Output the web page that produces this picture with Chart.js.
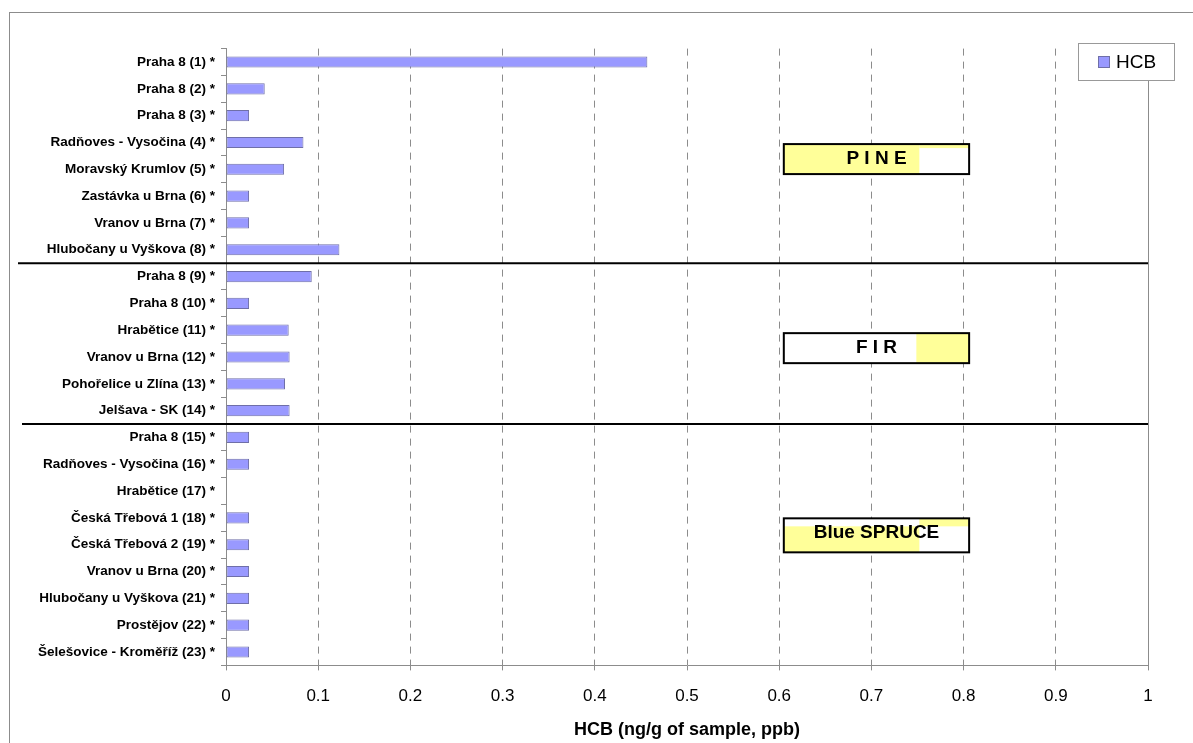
<!DOCTYPE html>
<html>
<head>
<meta charset="utf-8">
<script src="https://cdn.jsdelivr.net/npm/chart.js@4"></script>
<style>
  body { margin: 0; background: #fff; }
  canvas { display: block; }
</style>
</head>
<body>
<canvas id="chart" width="1193" height="743"></canvas>
<script>
// sample sites, top to bottom
const sites = [
  'Praha 8 (1) *', 'Praha 8 (2) *', 'Praha 8 (3) *', 'Radňoves - Vysočina (4) *',
  'Moravský Krumlov (5) *', 'Zastávka u Brna (6) *', 'Vranov u Brna (7) *',
  'Hlubočany u Vyškova (8) *', 'Praha 8 (9) *', 'Praha 8 (10) *', 'Hrabětice (11) *',
  'Vranov u Brna (12) *', 'Pohořelice u Zlína (13) *', 'Jelšava - SK (14) *',
  'Praha 8 (15) *', 'Radňoves - Vysočina (16) *', 'Hrabětice (17) *',
  'Česká Třebová 1 (18) *', 'Česká Třebová 2 (19) *', 'Vranov u Brna (20) *',
  'Hlubočany u Vyškova (21) *', 'Prostějov (22) *', 'Šelešovice - Kroměříž (23) *'
];

// HCB, ng/g of sample (ppb); site 17 has no bar
const hcb = [
  0.457, 0.042, 0.025, 0.084, 0.063, 0.025, 0.025, 0.123,
  0.093, 0.025, 0.068, 0.069, 0.064, 0.069,
  0.025, 0.025, null, 0.025, 0.025, 0.025, 0.025, 0.025, 0.025
];

// tree groups: label, last site index of the group
const groups = ['P I N E', 'F I R', 'Blue SPRUCE'];
const groupEnds = [7, 13, 22];

const xTicks = [0, 0.1, 0.2, 0.3, 0.4, 0.5, 0.6, 0.7, 0.8, 0.9, 1];

const FONT = '"Liberation Sans", Arial, sans-serif';

// draws the frame, group separators, tree name boxes and the legend
const decorations = {
  id: 'decorations',
  beforeDraw(chart) {
    const ctx = chart.ctx;
    ctx.save();
    ctx.fillStyle = '#fff';
    ctx.fillRect(0, 0, chart.width, chart.height);
    ctx.strokeStyle = '#8c8c8c';
    ctx.lineWidth = 1;
    ctx.strokeRect(9.5, 12.5, 1400, 1000);
    ctx.restore();
  },
  afterDraw(chart) {
    const ctx = chart.ctx;
    const x = chart.scales.x, y = chart.scales.y;
    ctx.save();

    // solid line at x = 1
    ctx.strokeStyle = '#8c8c8c';
    ctx.lineWidth = 1;
    ctx.beginPath();
    ctx.moveTo(Math.round(x.getPixelForValue(1)) + 0.5, chart.chartArea.top);
    ctx.lineTo(Math.round(x.getPixelForValue(1)) + 0.5, chart.chartArea.bottom);
    ctx.stroke();

    // separators between groups
    ctx.strokeStyle = '#000';
    ctx.lineWidth = 2;
    const starts = [18, 22];
    for (let g = 0; g < groupEnds.length - 1; g++) {
      const i = groupEnds[g];
      const py = (y.getPixelForValue(i) + y.getPixelForValue(i + 1)) / 2;
      ctx.beginPath();
      ctx.moveTo(starts[g], py);
      ctx.lineTo(x.getPixelForValue(1), py);
      ctx.stroke();
    }

    // group name boxes
    const bx0 = x.getPixelForValue(0.605), bx1 = x.getPixelForValue(0.806);
    const split = x.getPixelForValue(0.752);
    const centers = [3.62, 10.67, 17.65];
    const heights = [30, 30, 34];
    ctx.font = 'bold 19px ' + FONT;
    ctx.textAlign = 'center';
    ctx.textBaseline = 'alphabetic';
    groups.forEach((name, g) => {
      const cy = y.getPixelForValue(centers[g]);
      const h = heights[g];
      const top = cy - h / 2;
      ctx.fillStyle = '#fff';
      ctx.fillRect(bx0, top, bx1 - bx0, h);
      ctx.fillStyle = '#ffff99';
      if (g === 0) {
        ctx.fillRect(bx0, top, split - bx0, h);
        ctx.fillRect(split, top, bx1 - split, 4);
      } else if (g === 1) {
        ctx.fillRect(split - 3, top, bx1 - split + 3, h);
      } else {
        ctx.fillRect(bx0, top + 8, split - bx0, h - 8);
        ctx.fillRect(split, top, bx1 - split, 8);
      }
      ctx.strokeStyle = '#000';
      ctx.lineWidth = 2;
      ctx.strokeRect(bx0, top, bx1 - bx0, h);
      ctx.fillStyle = '#000';
      ctx.fillText(name, (bx0 + bx1) / 2, cy + (g === 2 ? 3 : 5));
    });

    // legend
    const ds = chart.data.datasets[0];
    ctx.fillStyle = '#fff';
    ctx.fillRect(1078, 43, 96, 37);
    ctx.strokeStyle = '#999';
    ctx.lineWidth = 1;
    ctx.strokeRect(1078.5, 43.5, 96, 37);
    ctx.fillStyle = ds.backgroundColor;
    ctx.fillRect(1098, 56, 12, 12);
    ctx.strokeStyle = ds.borderColor;
    ctx.strokeRect(1098.5, 56.5, 11, 11);
    ctx.fillStyle = '#000';
    ctx.font = '19px ' + FONT;
    ctx.textAlign = 'left';
    ctx.textBaseline = 'middle';
    ctx.fillText(ds.label, 1116, 63);

    ctx.restore();
  }
};

new Chart(document.getElementById('chart'), {
  type: 'bar',
  data: {
    labels: sites,
    datasets: [{
      label: 'HCB',
      data: hcb,
      backgroundColor: '#9999ff',
      borderColor: '#6f6fa8',
      borderWidth: 1,
      borderSkipped: false,
      categoryPercentage: 0.8,
      barPercentage: 0.52
    }]
  },
  options: {
    indexAxis: 'y',
    responsive: false,
    animation: false,
    layout: { padding: { top: 48.6, right: 45, left: 0, bottom: 0 } },
    plugins: {
      legend: { display: false },
      tooltip: { enabled: false }
    },
    scales: {
      x: {
        min: 0,
        max: 1,
        afterBuildTicks(axis) {
          axis.ticks = xTicks.map(v => ({ value: v }));
        },
        afterFit(axis) { axis.height = 77.6; },
        ticks: {
          color: '#000',
          font: { family: FONT, size: 17 },
          padding: 16,
          callback: v => String(Number(v.toFixed(1)))
        },
        grid: {
          color: '#8c8c8c',
          lineWidth: 1,
          tickLength: 5,
          tickColor: '#8c8c8c'
        },
        border: {
          display: true,
          color: '#8c8c8c',
          width: 1,
          dash: c => (c.tick && (c.tick.value === 0 || c.tick.value === 1)) ? [] : [7, 6]
        },
        title: {
          display: true,
          text: 'HCB (ng/g of sample, ppb)',
          color: '#000',
          font: { family: FONT, size: 18, weight: 'bold' },
          padding: { top: 0, bottom: 2 }
        }
      },
      y: {
        afterFit(axis) { axis.width = 226; },
        ticks: {
          color: '#000',
          font: { family: FONT, size: 13.5, weight: 'bold' },
          padding: 6,
          autoSkip: false
        },
        grid: {
          offset: true,
          drawOnChartArea: false,
          tickLength: 5,
          tickColor: '#8c8c8c',
          color: '#8c8c8c'
        },
        border: { display: true, color: '#8c8c8c', width: 1 }
      }
    }
  },
  plugins: [decorations]
});
</script>
</body>
</html>
